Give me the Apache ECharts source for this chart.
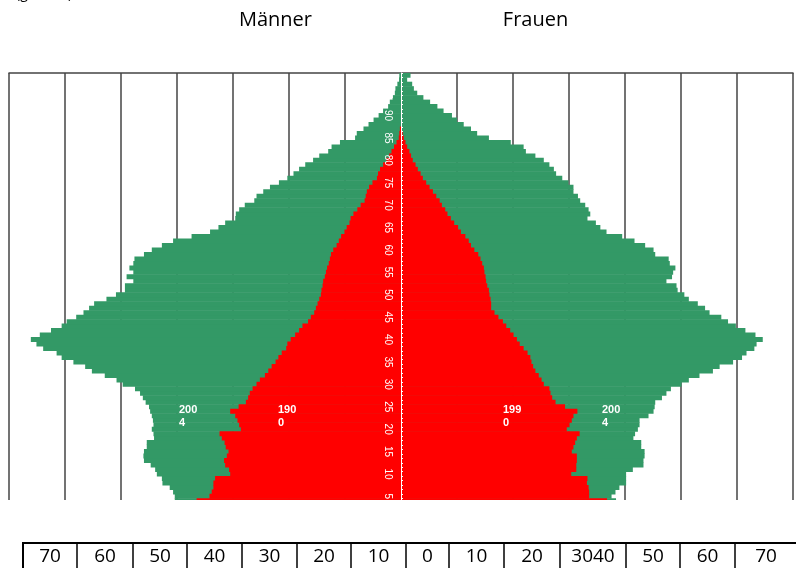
<!DOCTYPE html>
<html><head><meta charset="utf-8">
<script src="https://cdn.jsdelivr.net/npm/echarts@6/dist/echarts.min.js"></script>
<style>html,body{margin:0;padding:0;background:#fff}#c{width:796px;height:568px}</style>
</head><body><div id="c"></div>
<script>
// Age categories 0..99
const ages = [];
for (let i = 0; i < 100; i++) ages.push(String(i));

// Männer (left), green series (2004)
const men2004 = [
 37.5,38.2,38.8,39.6,40.4, 40.4,40.7,41.3,42.6,42.7,
 43.6,43.9,44.7,45.9,46.0, 45.9,45.4,45.4,44.1,44.2,
 44.5,44.2,44.3,44.5,44.8, 45.0,45.6,46.1,46.6,47.5,
 49.7,50.8,52.9,55.2,56.4, 58.5,60.6,61.5,63.9,65.1,
 66.1,64.5,62.5,60.6,59.7, 58.0,56.7,55.7,54.8,52.6,
 50.9,49.3,49.3,47.8,49.0, 47.8,48.5,47.8,47.6,45.9,
 44.5,42.7,40.7,37.4,34.1, 32.6,31.4,29.6,29.5,28.9,
 27.9,26.2,25.8,24.6,23.4, 21.8,20.3,19.2,18.2,17.1,
 15.7,14.6,13.0,12.4,10.9, 8.2,7.9,6.7,5.8,4.9,
 4.0,3.2,2.3,2.0,1.5, 1.1,1.0,0.65,0.35,0.3
];
// Frauen (right), green series (2004)
const women2004 = [
 35.6,36.3,36.9,37.6,38.4, 37.6,38.3,39.0,40.2,40.2,
 40.2,41.4,43.3,43.3,43.5, 43.5,42.9,42.9,41.5,41.8,
 42.3,42.6,42.6,44.2,45.1, 45.3,45.4,46.6,47.4,48.2,
 50.1,51.4,53.3,55.7,56.9, 59.3,60.9,61.7,63.1,63.5,
 64.6,63.3,61.5,59.8,58.4, 57.2,55.1,54.3,53.0,51.4,
 50.6,49.4,49.2,47.4,48.4, 48.6,49.0,48.0,47.8,45.4,
 45.1,43.6,41.7,39.5,36.7, 35.6,34.8,33.3,33.8,33.5,
 32.9,32.0,31.6,30.8,30.8, 29.9,28.8,27.7,27.3,26.5,
 25.5,24.0,22.3,21.9,19.6, 15.7,13.6,12.5,11.2,10.0,
 9.1,7.6,6.5,5.2,4.0, 2.9,2.3,2.0,1.1,1.7
];
// Männer (left), red series
const menRed = [
 40.5,39.4,38.3,37.4,36.5, 34.2,33.8,33.5,33.5,33.2,
 30.5,30.7,31.4,31.6,31.1, 30.8,31.3,31.5,32.0,32.4,
 28.6,28.9,29.2,29.6,30.5, 29.0,27.7,27.3,27.0,26.5,
 25.8,25.2,24.3,23.7,23.1, 22.4,21.9,21.3,20.5,20.3,
 19.7,18.9,18.2,17.6,16.6, 16.1,15.5,15.2,14.9,14.6,
 14.3,14.2,14.0,13.9,13.6, 13.4,13.2,12.9,12.7,12.5,
 12.1,11.5,11.1,10.7,10.1, 9.7,9.2,9.0,8.5,7.8,
 7.2,6.5,6.3,6.1,5.7, 5.1,4.3,4.1,3.75,3.2,
 2.6,2.1,1.7,1.25,0.8, 0.4,0.3,0.2,0,0,
 0,0,0,0,0, 0,0,0,0,0
];
// Frauen (right), red series
const womenRed = [
 40.0,39.0,38.0,37.2,36.8, 33.6,33.6,33.5,33.2,33.3,
 30.4,31.3,31.3,31.4,31.4, 30.5,30.8,31.1,31.4,31.9,
 29.6,30.1,30.5,30.8,31.5, 29.3,27.6,27.0,26.7,26.5,
 25.5,25.1,24.6,24.0,23.6, 23.3,23.1,22.6,21.9,21.2,
 20.7,20.1,19.5,18.8,18.2, 17.4,16.7,16.1,16.1,16.0,
 15.8,15.7,15.4,15.2,15.1, 14.9,14.8,14.5,14.2,13.8,
 13.1,12.5,12.1,11.5,10.7, 10.2,9.5,8.9,8.3,7.9,
 7.3,6.9,6.3,5.7,5.1, 4.5,3.9,3.5,3.0,2.6,
 2.1,1.8,1.5,1.1,0.8, 0.5,0.3,0.15,0,0,
 0,0,0,0,0, 0,0,0,0,0
];

const tableLabels = ['70','60','50','40','30','20','10','0','10','20','3040','50','60','70'];
const headers = ['Männer','Frauen'];
const yearNotes = ['200\n4','190\n0','199\n0','200\n4'];

const GREEN = '#339966', RED = '#ff0000';
const chart = echarts.init(document.getElementById('c'), null, {renderer:'canvas'});

function bar(name, data, color) {
  return {name, type:'bar', data, barGap:'-100%', barWidth:5,
    itemStyle:{color}, silent:true, animation:false};
}

// layout
const gridLeft = 9, gridRight = 3, plotW = 796 - gridLeft - gridRight;
const zeroX = gridLeft + plotW / 2;
const edges = [23,77,133,187,242,297,351,406,449,504,560,626,680,735,797];
const tableTop = 543;
const graphics = [
  {type:'rect', z:100, shape:{x:0,y:500,width:796,height:68}, style:{fill:'#fff'}},
  {type:'rect', z:101, shape:{x:edges[0],y:tableTop,width:800-edges[0],height:40}, style:{fill:'#fff',stroke:'#000',lineWidth:2}},
  {type:'text', z:101, x:16, y:1, style:{text:'(gesamt)', font:'14px "Open Sans"', fill:'#000', verticalAlign:'bottom'}},
  {type:'text', z:101, x:275.5, y:20, style:{text:headers[0], font:'20px "Open Sans"', fill:'#000', align:'center', verticalAlign:'middle'}},
  {type:'text', z:101, x:535.5, y:20, style:{text:headers[1], font:'20px "Open Sans"', fill:'#000', align:'center', verticalAlign:'middle'}}
];
for (let i = 1; i < edges.length - 1; i++) {
  graphics.push({type:'line', z:102, shape:{x1:edges[i],y1:tableTop,x2:edges[i],y2:568}, style:{stroke:'#000',lineWidth:1.5}});
}
tableLabels.forEach((t,i) => {
  graphics.push({type:'text', z:103, x:(edges[i]+edges[i+1])/2, y:557,
    style:{text:t, font:'19px "Open Sans"', fill:'#000', align:'center', verticalAlign:'middle'}});
});
const notePos = [[179,403],[278,403],[503,403],[602,403]];
yearNotes.forEach((t,i) => {
  graphics.push({type:'text', z:104, x:notePos[i][0], y:notePos[i][1],
    style:{text:t, font:'bold 11px "Liberation Sans", Arial', fill:'#fff', lineHeight:13, align:'left', verticalAlign:'top'}});
});

chart.setOption({
  animation:false,
  grid:{left:gridLeft, right:gridRight, top:73, height:448, containLabel:false, outerBoundsMode:'none'},
  xAxis:{type:'value', min:-70, max:70, interval:10, position:'top',
    axisLine:{show:true, onZero:false, lineStyle:{color:'#444', width:1.5}},
    axisTick:{show:false}, axisLabel:{show:false},
    splitLine:{show:true, lineStyle:{color:'#444', width:1.5}}},
  yAxis:{type:'category', data:ages, z:5, position:'left', offset:-(zeroX - gridLeft),
    axisLine:{show:true, onZero:false, lineStyle:{color:'#fff', width:1}},
    axisTick:{show:true, inside:true, length:2, interval:0, lineStyle:{color:'#fff'}},
    axisLabel:{interval:4, rotate:-90, color:'#fff', fontSize:10, fontFamily:'"Liberation Sans", Arial', margin:8},
    splitLine:{show:false}},
  series:[
    bar('Männer 2004', men2004.map(v => -v), GREEN),
    bar('Frauen 2004', women2004, GREEN),
    bar('Männer rot', menRed.map(v => -v), RED),
    bar('Frauen rot', womenRed, RED)
  ],
  graphic: graphics
});
</script></body></html>
